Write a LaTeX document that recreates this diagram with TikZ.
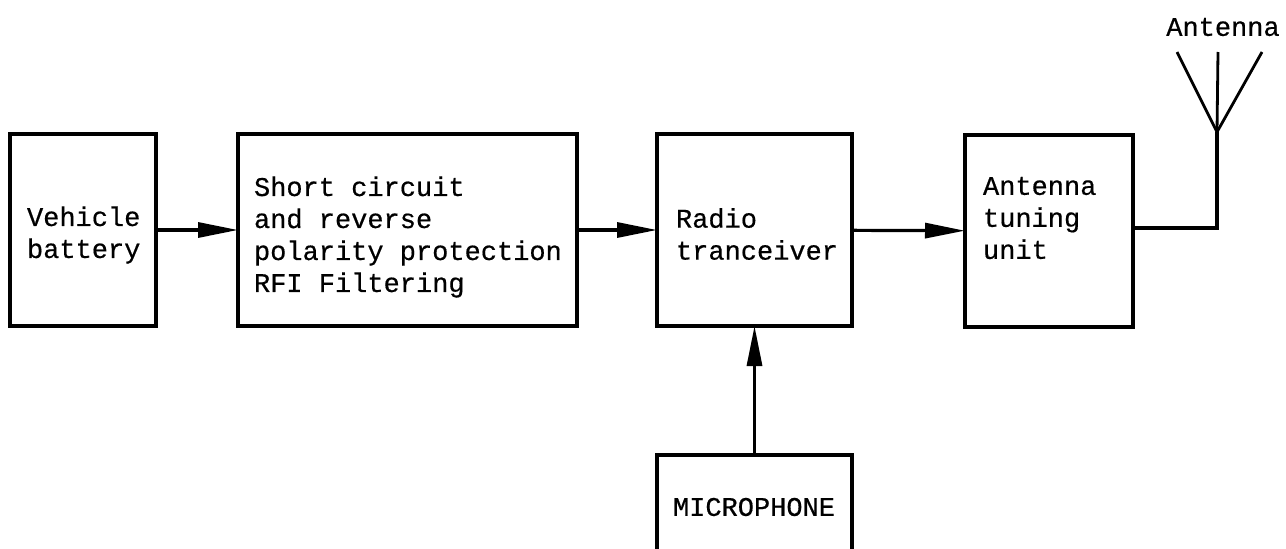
\documentclass[tikz,border=0pt]{standalone}
\usepackage{fontspec}
\setmainfont[AutoFakeBold=0.5]{Liberation Mono}
\usetikzlibrary{arrows.meta}

\begin{document}
\begin{tikzpicture}
  [x=1pt,y=-1pt,line width=3.4pt,
   every node/.style={inner sep=0pt,outer sep=0pt,font=\fontsize{27}{32}\selectfont\bfseries},
   blk/.style={draw,minimum height=192pt},
   lbl/.style={anchor=west,align=left},
   flow/.style={-{Triangle[length=40pt,width=15pt]},line width=3.2pt}]
  \useasboundingbox (0,0) rectangle (1286,549);
  \clip (0,0) rectangle (1286,549);
  \node[blk,minimum width=146pt] (battery) at (83,230) {};
  \node[blk,minimum width=339pt] (filter) at (407.5,230) {};
  \node[blk,minimum width=195pt] (radio) at (754.5,230) {};
  \node[blk,minimum width=168pt] (tuner) at (1049,231) {};
  \node[blk,minimum width=195pt,minimum height=140pt] (mic) at (754.5,525) {};
  \node[lbl] (batterytxt) at (27,235) {Vehicle\\battery};
  \node[lbl] (filtertxt) at (254,237) {Short circuit\\and reverse\\polarity protection\\RFI Filtering};
  \node[lbl] (radiotxt) at (676,234) {Radio\\tranceiver};
  \node[lbl] (tunertxt) at (983,218) {Antenna\\tuning\\unit};
  \node[lbl] (mictxt) at (673,507) {MICROPHONE};
  \node (anttxt) at (1223,27) {Antenna};
  \coordinate (feed) at (1217,228);
  \coordinate (base) at (1217,132);
  \coordinate (tipl) at (1177,52);
  \coordinate (tipm) at (1218,52);
  \coordinate (tipr) at (1262,52);
  \foreach \from/\to in {battery/filter,filter/radio,radio/tuner}
    \draw[flow,yshift=1.5pt] (\from) -- (\to);
  \draw[flow] (mic) -- (radio);
  \draw (tuner.east |- feed) -- (feed) -- (base);
  \foreach \to in {tipl,tipm,tipr}
    \draw[line width=2.8pt] (base) -- (\to);
\end{tikzpicture}
\end{document}
